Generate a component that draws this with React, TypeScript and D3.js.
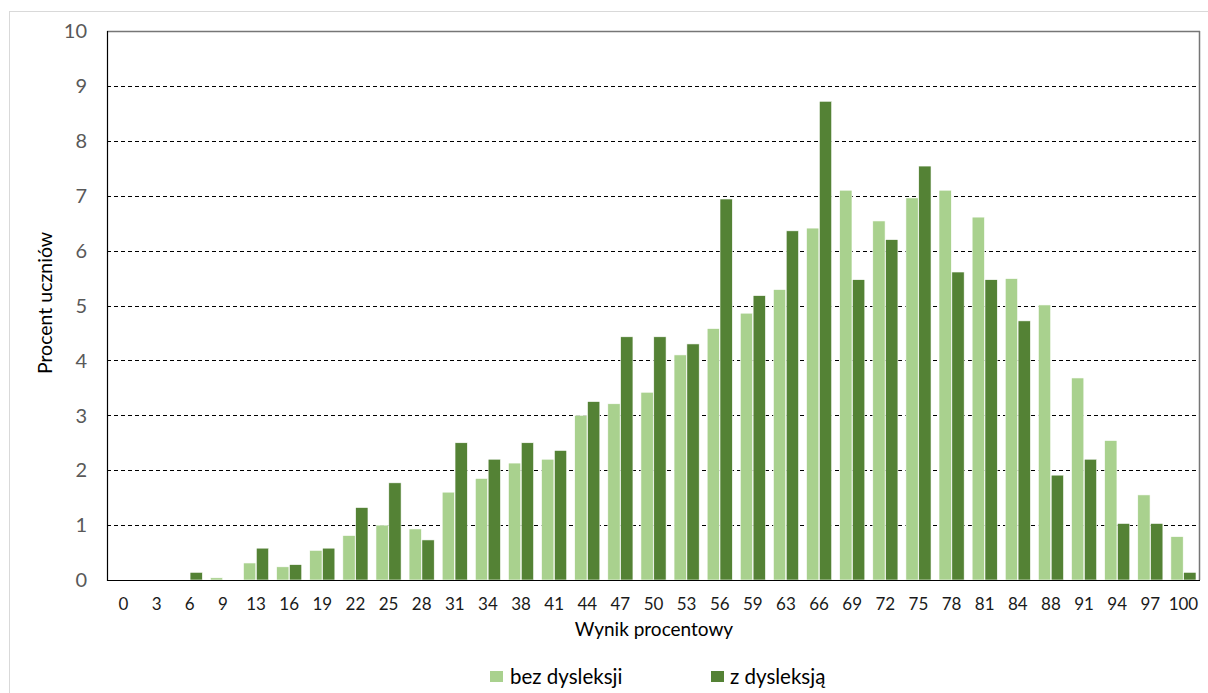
import * as d3 from "d3";

const categories = [
  "0", "3", "6", "9", "13", "16", "19", "22", "25", "28", "31", "34", "38", "41", "44", "47", "50",
  "53", "56", "59", "63", "66", "69", "72", "75", "78", "81", "84", "88", "91", "94", "97", "100",
];

const bezDysleksji = [
  0, 0, 0, 0.04, 0.31, 0.24, 0.54, 0.81, 1.0, 0.93, 1.6, 1.85, 2.13, 2.2, 3.0, 3.21, 3.42,
  4.1, 4.58, 4.86, 5.29, 6.41, 7.1, 6.54, 6.96, 7.1, 6.61, 5.49, 5.01, 3.68, 2.54, 1.55, 0.79,
];

const zDysleksja = [
  0, 0, 0.14, 0, 0.58, 0.28, 0.58, 1.32, 1.77, 0.73, 2.5, 2.2, 2.5, 2.36, 3.25, 4.43, 4.43,
  4.3, 6.94, 5.18, 6.36, 8.72, 5.47, 6.2, 7.54, 5.61, 5.47, 4.72, 1.91, 2.2, 1.03, 1.03, 0.14,
];

const seriesNames = ["bez dysleksji", "z dysleksją"];
const yTicks = [0, 1, 2, 3, 4, 5, 6, 7, 8, 9, 10];

const WIDTH = 1208;
const HEIGHT = 693;
const FONT = "Lato, 'Open Sans', sans-serif";
const LIGHT = "#a9d18e";
const DARK = "#548235";

const plot = { left: 107, top: 31, right: 1200, bottom: 580 };

export default function App() {
  const x = d3
    .scaleBand()
    .domain(categories)
    .range([plot.left, plot.right])
    .paddingInner(0.21)
    .paddingOuter(0.105);

  const inner = d3.scaleBand().domain(seriesNames).range([0, x.bandwidth()]).padding(0.04);

  const y = d3.scaleLinear().domain([0, 10]).range([plot.bottom, plot.top]);

  const series = [bezDysleksji, zDysleksja];
  const colors = [LIGHT, DARK];

  return (
    <div style={{ position: "fixed", left: 0, top: 0 }}>
      <svg width={WIDTH} height={HEIGHT} style={{ display: "block", background: "#fff" }}>
        {/* outer chart frame */}
        <rect x={9.5} y={11.5} width={WIDTH} height={HEIGHT} fill="none" stroke="#d9d9d9" />

        {/* gridlines */}
        {yTicks.slice(1, -1).map((t) => (
          <line
            key={t}
            x1={plot.left}
            x2={plot.right}
            y1={Math.round(y(t)) + 0.5}
            y2={Math.round(y(t)) + 0.5}
            stroke="#000"
            strokeDasharray="4,3"
            strokeWidth={1.1}
          />
        ))}

        {/* bars */}
        {series.map((values, si) =>
          values.map((v, i) =>
            v > 0 ? (
              <rect
                key={si + "-" + i}
                x={(x(categories[i]) ?? 0) + (inner(seriesNames[si]) ?? 0)}
                y={y(v)}
                width={inner.bandwidth()}
                height={plot.bottom - y(v)}
                fill={colors[si]}
                stroke="#fff"
                strokeWidth={0.6}
              />
            ) : null
          )
        )}

        {/* plot frame */}
        <line x1={plot.left} x2={plot.right} y1={plot.top + 0.5} y2={plot.top + 0.5} stroke="#767676" strokeWidth={1.5} />
        <line x1={plot.right - 0.5} x2={plot.right - 0.5} y1={plot.top} y2={plot.bottom} stroke="#767676" strokeWidth={1.5} />
        <line x1={plot.left + 0.5} x2={plot.left + 0.5} y1={plot.top} y2={plot.bottom + 1} stroke="#000" strokeWidth={1.2} />
        <line x1={plot.left} x2={plot.right} y1={plot.bottom + 0.5} y2={plot.bottom + 0.5} stroke="#000" strokeWidth={1.2} />

        {/* y tick labels */}
        {yTicks.map((t) => (
          <text
            key={t}
            x={87}
            y={y(t)}
            dy="0.36em"
            textAnchor="end"
            fontFamily={FONT}
            fontSize={20}
            fill="#595959"
          >
            {t}
          </text>
        ))}

        {/* x tick labels */}
        {categories.map((c) => (
          <text
            key={c}
            x={(x(c) ?? 0) + x.bandwidth() / 2}
            y={610}
            textAnchor="middle"
            fontFamily={FONT}
            fontSize={17}
            fill="#1a1a1a"
          >
            {c}
          </text>
        ))}

        {/* axis titles */}
        <text
          x={654}
          y={636}
          textAnchor="middle"
          fontFamily={FONT}
          fontSize={19}
          fill="#000"
        >
          Wynik procentowy
        </text>
        <text
          transform="translate(52,303) rotate(-90)"
          textAnchor="middle"
          fontFamily={FONT}
          fontSize={19.5}
          fill="#000"
        >
          Procent uczniów
        </text>

        {/* legend */}
        <rect x={490} y={671} width={13} height={11} fill={LIGHT} />
        <text x={510} y={684} fontFamily={FONT} fontSize={20.5} fill="#000">
          {seriesNames[0]}
        </text>
        <rect x={711} y={671} width={13} height={11} fill={DARK} />
        <text x={730} y={684} fontFamily={FONT} fontSize={20.5} fill="#000">
          {seriesNames[1]}
        </text>
      </svg>
    </div>
  );
}
